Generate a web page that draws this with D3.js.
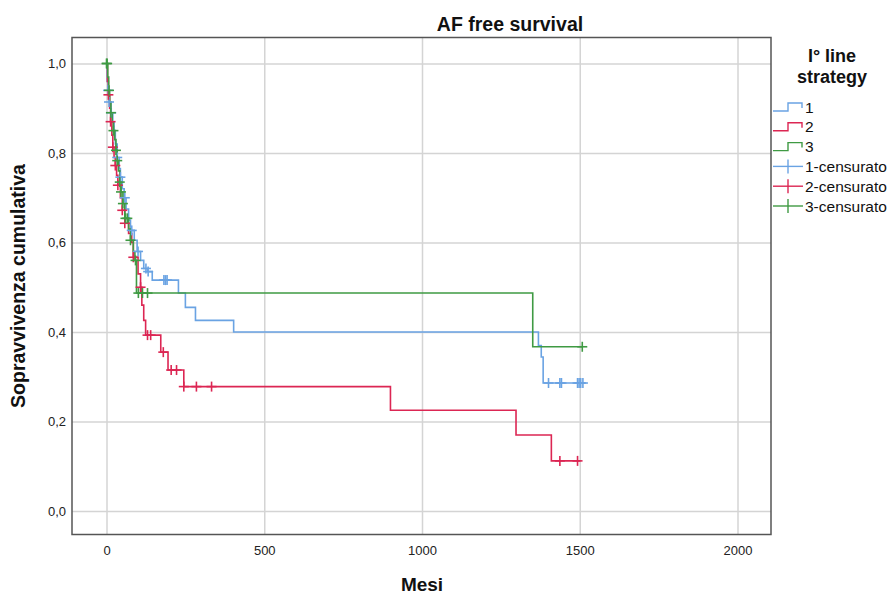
<!DOCTYPE html>
<html>
<head>
<meta charset="utf-8">
<script src="https://cdn.jsdelivr.net/npm/d3@7"></script>
<style>
  body { margin: 0; background: #fff; }
  svg { font-family: "Liberation Sans", Arial, sans-serif; }
</style>
</head>
<body>
<svg id="km" width="892" height="595"></svg>
<script>
// step curves: time of each drop and survival after it
var times1 = [0, 2, 5, 8, 14, 20, 24, 28, 34, 40, 44, 50, 56, 62, 70, 76, 88, 97, 108, 118, 130, 145, 228, 250, 282, 403, 1369, 1378, 1384];
var surv1 = [1.0, 0.96, 0.94, 0.914, 0.89, 0.87, 0.85, 0.82, 0.79, 0.765, 0.746, 0.72, 0.70, 0.675, 0.65, 0.627, 0.605, 0.58, 0.56, 0.542, 0.535, 0.516, 0.487, 0.455, 0.426, 0.40, 0.37, 0.344, 0.286];
var end1 = 1518;
var censor1 = [5, 8, 15, 34, 44, 58, 80, 100, 125, 132, 182, 187, 192, 1401, 1437, 1442, 1493, 1498, 1503, 1510];

var times2 = [0, 3, 6, 10, 13, 17, 20, 24, 28, 32, 36, 44, 50, 58, 70, 80, 85, 100, 108, 112, 118, 124, 172, 195, 245, 900, 1298, 1410];
var surv2 = [1.0, 0.96, 0.93, 0.90, 0.87, 0.84, 0.813, 0.79, 0.772, 0.75, 0.728, 0.70, 0.672, 0.643, 0.62, 0.60, 0.567, 0.53, 0.50, 0.46, 0.426, 0.393, 0.355, 0.315, 0.278, 0.225, 0.17, 0.112];
var end2 = 1502;
var censor2 = [6, 13, 20, 28, 36, 50, 58, 85, 108, 130, 140, 180, 205, 222, 245, 285, 333, 1437, 1493];

var times3 = [0, 4, 7, 10, 14, 18, 22, 26, 30, 34, 38, 42, 46, 52, 58, 70, 76, 85, 90, 95, 1351];
var surv3 = [1.0, 0.97, 0.94, 0.914, 0.89, 0.87, 0.85, 0.83, 0.806, 0.783, 0.76, 0.735, 0.713, 0.687, 0.654, 0.63, 0.605, 0.58, 0.56, 0.487, 0.367];
var end3 = 1508;
var censor3 = [0, 2, 8, 14, 22, 30, 34, 42, 46, 52, 60, 66, 76, 92, 101, 114, 130, 1508];

var legendLabels = ["1", "2", "3", "1-censurato", "2-censurato", "3-censurato"];
var xTicks = [0, 500, 1000, 1500, 2000];
var yTicks = [0, 0.2, 0.4, 0.6, 0.8, 1.0];

var colors = ["#6aa3e3", "#dc2653", "#3f9a43"];

var svg = d3.select("svg#km");

var plotLeft = 72, plotRight = 771, plotTop = 37.5, plotBottom = 534.5;

var x = d3.scaleLinear().domain([0, 2000]).range([106.5, 737.5]);
var y = d3.scaleLinear().domain([0, 1]).range([511, 63.5]);

// grid + axes
var xAxis = d3.axisBottom(x)
    .tickValues(xTicks)
    .tickSize(-(plotBottom - plotTop))
    .tickPadding(11)
    .tickFormat(d3.format("d"));
var gx = svg.append("g")
    .attr("transform", "translate(0," + plotBottom + ")")
    .call(xAxis);

var yAxis = d3.axisLeft(y)
    .tickValues(yTicks)
    .tickSize(-(plotRight - plotLeft))
    .tickPadding(6)
    .tickFormat(function (d) { return d.toFixed(1).replace(".", ","); });
var gy = svg.append("g")
    .attr("transform", "translate(" + plotLeft + ",0)")
    .call(yAxis);

[gx, gy].forEach(function (g) {
    g.select(".domain").remove();
    g.selectAll(".tick line")
        .attr("stroke", "#d4d4d4")
        .attr("stroke-width", 1.5);
    g.selectAll(".tick text")
        .attr("fill", "#222")
        .style("font-size", "13px");
});

// frame
svg.append("rect")
    .attr("x", plotLeft)
    .attr("y", plotTop)
    .attr("width", plotRight - plotLeft)
    .attr("height", plotBottom - plotTop)
    .attr("fill", "none")
    .attr("stroke", "#555")
    .attr("stroke-width", 1.5);

// curves
var groups = [
    { times: times1, surv: surv1, end: end1, censor: censor1 },
    { times: times2, surv: surv2, end: end2, censor: censor2 },
    { times: times3, surv: surv3, end: end3, censor: censor3 }
];

function survAt(g, t) {
    var s = 1;
    for (var i = 0; i < g.times.length; i++) {
        if (g.times[i] <= t) s = g.surv[i];
    }
    return s;
}

var line = d3.line()
    .x(function (d) { return x(d[0]); })
    .y(function (d) { return y(d[1]); })
    .curve(d3.curveStepAfter);

groups.forEach(function (g, k) {
    var pts = g.times.map(function (t, i) { return [t, g.surv[i]]; });
    pts.push([g.end, g.surv[g.surv.length - 1]]);
    svg.append("path")
        .datum(pts)
        .attr("d", line)
        .attr("fill", "none")
        .attr("stroke", colors[k])
        .attr("stroke-width", 1.6);
});

groups.forEach(function (g, k) {
    var marks = svg.append("g")
        .attr("stroke", colors[k])
        .attr("stroke-width", 1.6);
    g.censor.forEach(function (t) {
        var cx = x(t), cy = y(survAt(g, t));
        marks.append("line")
            .attr("x1", cx - 5).attr("x2", cx + 5)
            .attr("y1", cy).attr("y2", cy);
        marks.append("line")
            .attr("x1", cx).attr("x2", cx)
            .attr("y1", cy - 5).attr("y2", cy + 5);
    });
});

// titles
svg.append("text")
    .attr("x", 510)
    .attr("y", 31)
    .attr("text-anchor", "middle")
    .style("font-size", "19.5px")
    .style("font-weight", "bold")
    .attr("fill", "#111")
    .text("AF free survival");

svg.append("text")
    .attr("x", 422)
    .attr("y", 591)
    .attr("text-anchor", "middle")
    .style("font-size", "19px")
    .style("font-weight", "bold")
    .attr("fill", "#111")
    .text("Mesi");

svg.append("text")
    .attr("transform", "translate(25,286) rotate(-90)")
    .attr("text-anchor", "middle")
    .style("font-size", "19.5px")
    .style("font-weight", "bold")
    .attr("fill", "#111")
    .text("Sopravvivenza cumulativa");

// legend
var legend = svg.append("g");
legend.append("text")
    .attr("x", 832)
    .attr("y", 62)
    .attr("text-anchor", "middle")
    .style("font-size", "18px")
    .style("font-weight", "bold")
    .attr("fill", "#111")
    .text("I° line");
legend.append("text")
    .attr("x", 832)
    .attr("y", 83)
    .attr("text-anchor", "middle")
    .style("font-size", "18px")
    .style("font-weight", "bold")
    .attr("fill", "#111")
    .text("strategy");

legendLabels.forEach(function (lab, i) {
    var ly = 107 + i * 19.8;
    var c = colors[i % 3];
    var item = legend.append("g")
        .attr("stroke", c)
        .attr("stroke-width", 1.4)
        .attr("fill", "none");
    if (i < 3) {
        item.append("path")
            .attr("d", "M773," + (ly + 4) + "H788V" + (ly - 4) + "H802V" + (ly + 1));
    } else {
        item.append("line")
            .attr("x1", 773).attr("x2", 803)
            .attr("y1", ly).attr("y2", ly);
        item.append("line")
            .attr("x1", 788).attr("x2", 788)
            .attr("y1", ly - 7).attr("y2", ly + 7);
    }
    legend.append("text")
        .attr("x", 805)
        .attr("y", ly + 5.5)
        .style("font-size", "15.5px")
        .attr("fill", "#111")
        .text(lab);
});
</script>
</body>
</html>
